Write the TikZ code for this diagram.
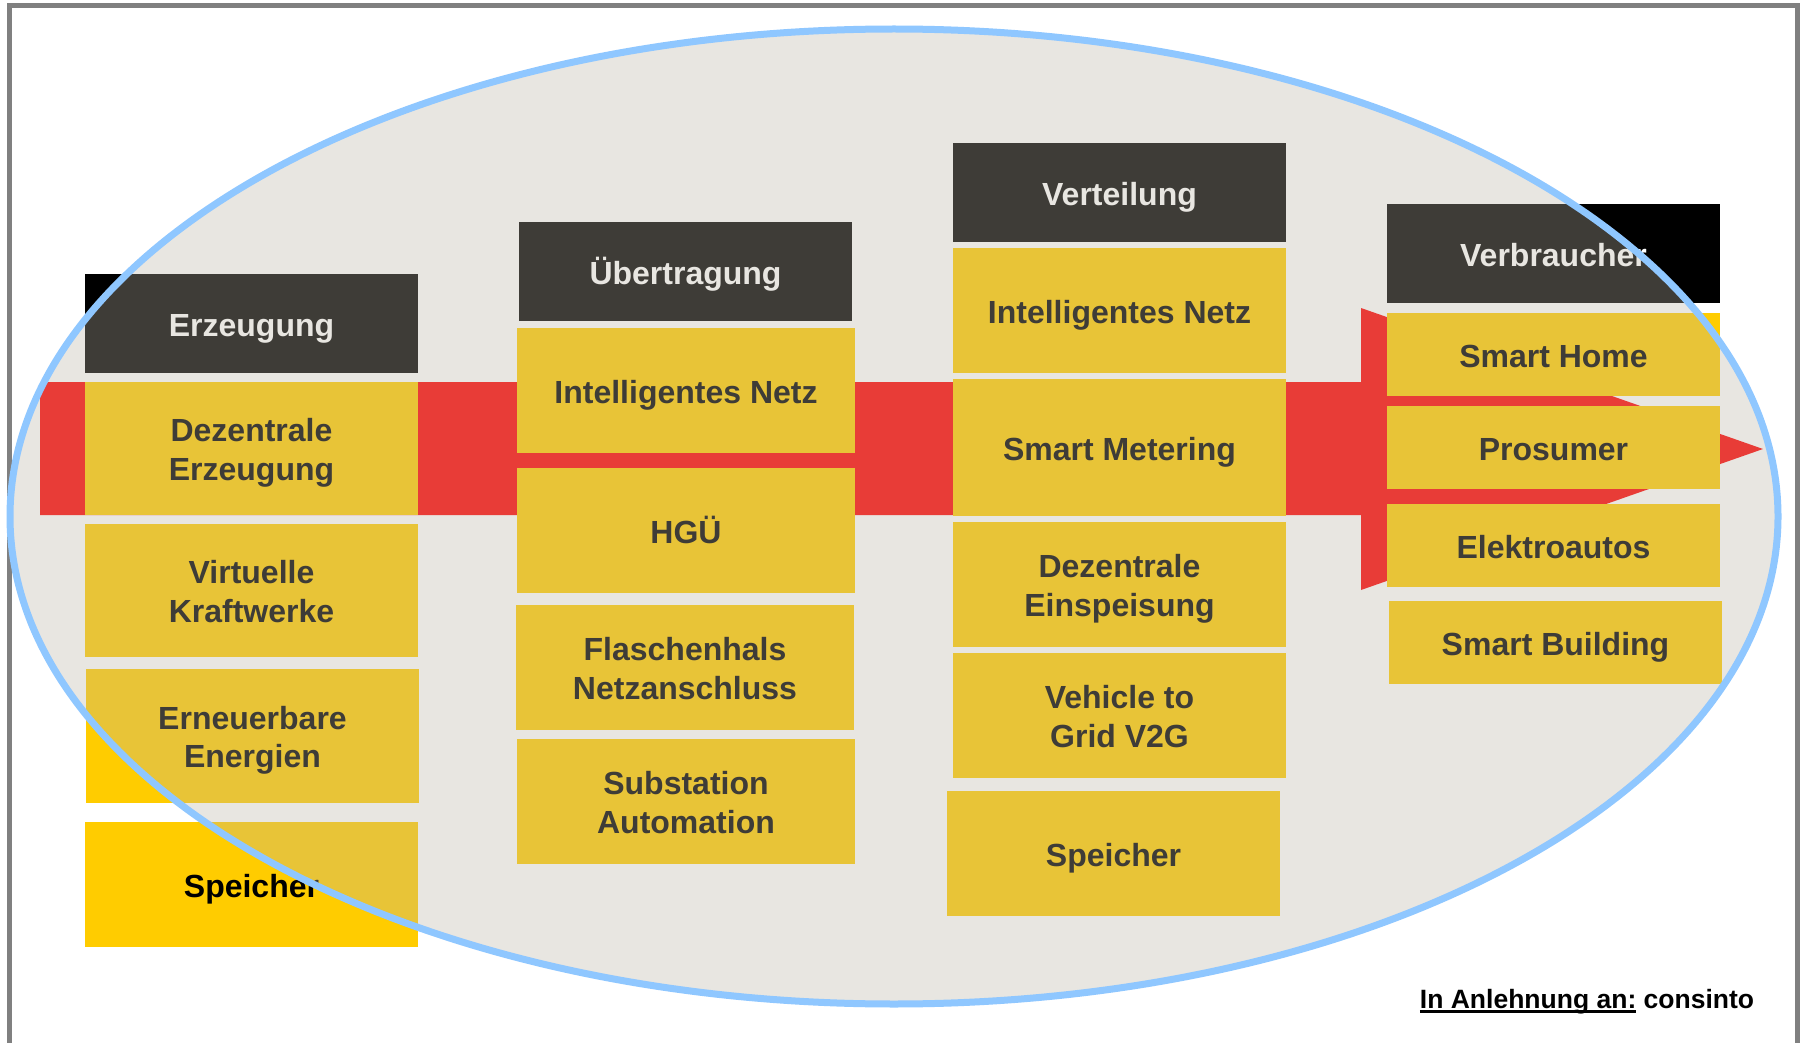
\documentclass[tikz,border=0pt]{standalone}
\usepackage{fontspec}
\setmainfont{Liberation Sans}
\definecolor{boxyellow}{RGB}{255,204,0}
\definecolor{arrowred}{RGB}{255,0,0}
\definecolor{ovlgray}{RGB}{186,180,165}
\definecolor{ellblue}{RGB}{143,199,255}
\definecolor{framegray}{RGB}{128,128,128}
\newcommand\lbl[1]{\raisebox{-5pt}[\height][\depth]{\begin{tabular}{@{}c@{}}#1\end{tabular}}}
\newcommand\thickul[1]{\setbox0\hbox{#1}\rlap{\rule[-5pt]{\wd0}{2.6pt}}\box0\relax}
\tikzset{
  item/.style={rectangle, fill=boxyellow, inner sep=0pt, align=center, text=black,
    font=\fontsize{32}{38.5}\selectfont\bfseries},
  head/.style={rectangle, fill=black, inner sep=0pt, align=center, text=white,
    minimum width=333pt, minimum height=99pt,
    font=\fontsize{32}{38.5}\selectfont\bfseries},
}
\begin{document}
\begin{tikzpicture}[x=1pt,y=-1pt]
\useasboundingbox (0,0) rectangle (1800,1043);
\fill[white] (0,0) rectangle (1800,1043);
\begin{scope}
\clip (0,0) rectangle (1800,1043);
\draw[framegray, line width=5pt] (9.5,5.5) rectangle (1797,1100);
\end{scope}
% red arrow
\fill[arrowred] (40,382) -- (1361,382) -- (1361,308) -- (1763,449) -- (1361,590) -- (1361,515) -- (40,515) -- cycle;
% column 1
\node[head] (erz) at (251.5,323.5) {\lbl{Erzeugung}};
\node[item, minimum width=333pt, minimum height=133pt] (dez1) at (251.5,448.5) {\lbl{Dezentrale\\Erzeugung}};
\node[item, minimum width=333pt, minimum height=133pt] (virt) at (251.5,590.5) {\lbl{Virtuelle\\Kraftwerke}};
\node[item, minimum width=333pt, minimum height=134pt] (ern) at (252.5,736) {\lbl{Erneuerbare\\Energien}};
\node[item, minimum width=333pt, minimum height=125pt] (spe1) at (251.5,884.5) {\lbl{Speicher}};
% column 2
\node[head] (ueb) at (685.5,271.5) {\lbl{Übertragung}};
\node[item, minimum width=338pt, minimum height=125pt] (in2) at (686,390.5) {\lbl{Intelligentes Netz}};
\node[item, minimum width=338pt, minimum height=125pt] (hgu) at (686,530.5) {\lbl{HGÜ}};
\node[item, minimum width=338pt, minimum height=125pt] (fla) at (685,667.5) {\lbl{Flaschenhals\\Netzanschluss}};
\node[item, minimum width=338pt, minimum height=125pt] (sub) at (686,801.5) {\lbl{Substation\\Automation}};
% column 3
\node[head] (ver) at (1119.5,192.5) {\lbl{Verteilung}};
\node[item, minimum width=333pt, minimum height=125pt] (in3) at (1119.5,310.5) {\lbl{Intelligentes Netz}};
\node[item, minimum width=333pt, minimum height=137pt] (sme) at (1119.5,447.5) {\lbl{Smart Metering}};
\node[item, minimum width=333pt, minimum height=125pt] (dez3) at (1119.5,584.5) {\lbl{Dezentrale\\Einspeisung}};
\node[item, minimum width=333pt, minimum height=125pt] (v2g) at (1119.5,715.5) {\lbl{Vehicle to\\Grid V2G}};
\node[item, minimum width=333pt, minimum height=125pt] (spe3) at (1113.5,853.5) {\lbl{Speicher}};
% column 4
\node[head] (vbr) at (1553.5,253.5) {\lbl{Verbraucher}};
\node[item, minimum width=333pt, minimum height=83pt] (sh) at (1553.5,354.5) {\lbl{Smart Home}};
\node[item, minimum width=333pt, minimum height=83pt] (pro) at (1553.5,447.5) {\lbl{Prosumer}};
\node[item, minimum width=333pt, minimum height=83pt] (ea) at (1553.5,545.5) {\lbl{Elektroautos}};
\node[item, minimum width=333pt, minimum height=83pt] (sb) at (1555.5,642.5) {\lbl{Smart Building}};
% ellipse overlay
\fill[ovlgray, fill opacity=0.3333] (894,516.5) ellipse [x radius=884, y radius=487.5];
\draw[ellblue, line width=7pt] (894,516.5) ellipse [x radius=884, y radius=487.5];
% footer
\node[anchor=base, inner sep=0pt, font=\fontsize{26.5}{30}\selectfont\bfseries] (src) at (1587,1008) {\thickul{In Anlehnung an:} consinto};
\end{tikzpicture}
\end{document}
